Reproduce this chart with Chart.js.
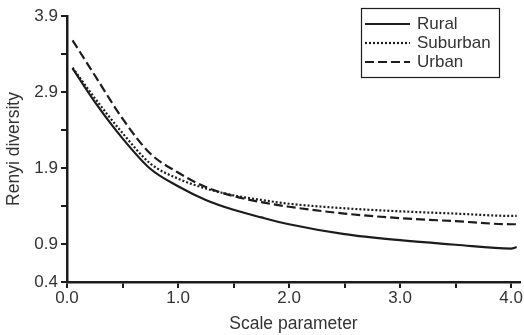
<!DOCTYPE html>
<html>
<head>
<meta charset="utf-8">
<script src="https://cdn.jsdelivr.net/npm/chart.js@4/dist/chart.umd.min.js"></script>
<style>
  html, body { margin: 0; padding: 0; background: #fff; }
  #wrap { width: 524px; height: 335px; }
</style>
</head>
<body>
<div id="wrap"><canvas id="renyi_chart" width="524" height="335"></canvas></div>
<script>
const scaleParams = [0.05, 0.25, 0.5, 0.75, 1.0, 1.25, 1.5, 1.75, 2.0, 2.5, 3.0, 3.5, 4.0, 4.05];
const rural =    [3.21, 2.77, 2.29, 1.89, 1.66, 1.48, 1.35, 1.25, 1.16, 1.03, 0.95, 0.89, 0.84, 0.86];
const suburban = [3.22, 2.82, 2.36, 1.96, 1.76, 1.63, 1.54, 1.48, 1.43, 1.37, 1.33, 1.30, 1.27, 1.27];
const urban =    [3.58, 3.12, 2.55, 2.09, 1.84, 1.65, 1.53, 1.45, 1.39, 1.30, 1.24, 1.20, 1.16, 1.16];
const seriesNames = ["Rural", "Suburban", "Urban"];
const yTicks = [0.4, 0.9, 1.4, 1.9, 2.4, 2.9, 3.4, 3.9];
const yLabelled = [0.4, 0.9, 1.9, 2.9, 3.9];
const xTicks = [0, 0.5, 1.0, 1.5, 2.0, 2.5, 3.0, 3.5, 4.0];

const FONT = "'Liberation Sans', Arial, sans-serif";
const INK = "#1c1c1c";
const TEXT = "#333";

const toPoints = (vals) => vals.map((v, i) => ({ x: scaleParams[i], y: v }));

// boxed legend in the upper right, drawn by hand
const boxLegend = {
  id: "boxLegend",
  afterDraw(chart) {
    const ctx = chart.ctx;
    const x0 = 361, y0 = 8, w = 138, h = 69;
    ctx.save();
    ctx.fillStyle = "#fff";
    ctx.fillRect(x0, y0, w, h);
    ctx.strokeStyle = INK;
    ctx.lineWidth = 1.2;
    ctx.strokeRect(x0 + 0.5, y0 + 0.5, w, h);
    ctx.font = "17px " + FONT;
    ctx.textBaseline = "middle";
    chart.data.datasets.forEach((ds, i) => {
      const yy = y0 + 16 + i * 19;
      ctx.beginPath();
      ctx.setLineDash(ds.borderDash || []);
      ctx.lineWidth = ds.borderWidth;
      ctx.strokeStyle = ds.borderColor;
      ctx.moveTo(x0 + 4, yy);
      ctx.lineTo(x0 + 49, yy);
      ctx.stroke();
      ctx.setLineDash([]);
      ctx.fillStyle = TEXT;
      ctx.fillText(ds.label, x0 + 56, yy);
    });
    ctx.restore();
  },
};

const config = {
  type: "line",
  data: {
    datasets: [
      { label: seriesNames[0], data: toPoints(rural), borderColor: INK, borderWidth: 2.2, borderDash: [] },
      { label: seriesNames[1], data: toPoints(suburban), borderColor: INK, borderWidth: 2.2, borderDash: [2, 2] },
      { label: seriesNames[2], data: toPoints(urban), borderColor: INK, borderWidth: 2.2, borderDash: [9, 4] },
    ],
  },
  options: {
    responsive: false,
    animation: false,
    layout: { padding: { top: 16, right: 4, left: 0, bottom: 0 } },
    elements: {
      point: { radius: 0 },
      line: { cubicInterpolationMode: "monotone", fill: false },
    },
    plugins: { legend: { display: false }, tooltip: { enabled: false } },
    scales: {
      x: {
        type: "linear",
        min: 0,
        max: 4.08,
        afterBuildTicks: (s) => { s.ticks = xTicks.map((v) => ({ value: v })); },
        afterFit: (s) => { s.height = 53; },
        border: { color: INK, width: 2.5 },
        grid: { drawOnChartArea: false, color: INK, lineWidth: 2, tickLength: 6, tickWidth: 2 },
        ticks: {
          color: TEXT,
          font: { family: FONT, size: 17 },
          padding: 0,
          maxRotation: 0,
          autoSkip: false,
          callback: (v) => (Number.isInteger(v) ? v.toFixed(1) : ""),
        },
        title: {
          display: true,
          text: "Scale parameter",
          color: TEXT,
          font: { family: FONT, size: 17.5 },
          padding: { top: 2, bottom: 0 },
        },
      },
      y: {
        type: "linear",
        min: 0.4,
        max: 3.9,
        afterBuildTicks: (s) => { s.ticks = yTicks.map((v) => ({ value: v })); },
        afterFit: (s) => { s.width = 67; },
        border: { color: INK, width: 2.5 },
        grid: { drawOnChartArea: false, color: INK, lineWidth: 2, tickLength: 6, tickWidth: 2 },
        ticks: {
          color: TEXT,
          font: { family: FONT, size: 17 },
          padding: 3,
          autoSkip: false,
          callback: (v) => (yLabelled.some((t) => Math.abs(t - v) < 1e-6) ? v.toFixed(1) : ""),
        },
        title: {
          display: true,
          text: "Renyi diversity",
          color: TEXT,
          font: { family: FONT, size: 17.5 },
          padding: { top: 4, bottom: 0 },
        },
      },
    },
  },
  plugins: [boxLegend],
};

new Chart("renyi_chart", config);
</script>
</body>
</html>
